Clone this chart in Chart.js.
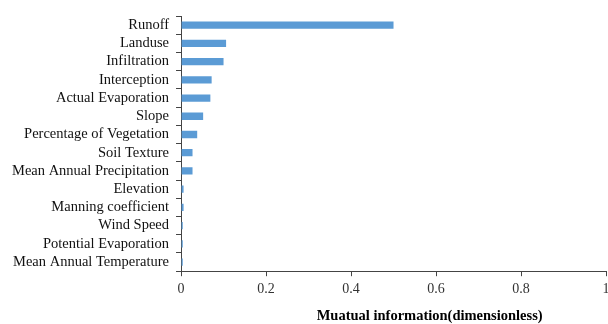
<!DOCTYPE html>
<html>
<head>
<meta charset="utf-8">
<script src="https://cdn.jsdelivr.net/npm/chart.js@4.4.1/dist/chart.umd.min.js"></script>
<style>
  html, body { margin: 0; padding: 0; background: #fff; }
  #wrap { width: 608px; height: 324px; }
</style>
</head>
<body>
<div id="wrap"><canvas id="barChart"></canvas></div>
<script>
// factors (top to bottom) and their mutual information
var factores = ["Runoff", "Landuse", "Infiltration", "Interception", "Actual Evaporation",
  "Slope", "Percentage of Vegetation", "Soil Texture", "Mean Annual Precipitation",
  "Elevation", "Manning coefficient", "Wind Speed", "Potential Evaporation",
  "Mean Annual Temperature"];
var infoMutua = [0.5, 0.106, 0.1, 0.072, 0.069, 0.052, 0.038, 0.027, 0.027,
  0.006, 0.006, 0.004, 0.004, 0.004];
var ticksX = [0, 0.2, 0.4, 0.6, 0.8, 1];
var tituloX = "Muatual information(dimensionless)";

const FUENTE = "'Liberation Serif', 'Times New Roman', serif";

// axis title sits right of the plot centre in the original
const tituloPlugin = {
  id: 'tituloX',
  afterDraw(chart) {
    const ctx = chart.ctx;
    const area = chart.chartArea;
    ctx.save();
    ctx.font = "bold 14.5px " + FUENTE;
    ctx.fillStyle = "#000";
    ctx.textAlign = "center";
    ctx.textBaseline = "middle";
    ctx.fillText(tituloX, area.left + (area.right - area.left) * 0.585, 316);
    ctx.restore();
  }
};

let barChart = new Chart(document.getElementById("barChart"), {
  type: 'bar',
  data: {
    labels: factores,
    datasets: [{
      data: infoMutua,
      backgroundColor: '#5b9bd5',
      borderWidth: 0,
      barPercentage: 0.4,
      categoryPercentage: 1
    }]
  },
  options: {
    indexAxis: 'y',
    responsive: true,
    maintainAspectRatio: false,
    animation: false,
    layout: { padding: { top: 16, right: 0, bottom: 21, left: 5 } },
    plugins: { legend: { display: false }, tooltip: { enabled: false } },
    scales: {
      x: {
        min: 0, max: 1,
        afterBuildTicks: (axis) => { axis.ticks = ticksX.map(v => ({ value: v })); },
        afterFit: (axis) => { axis.paddingRight = 2; },  // let the "1" run off the edge like the original
        grid: { display: true, drawOnChartArea: false, drawTicks: true, tickLength: 5, color: '#444', lineWidth: 1 },
        border: { display: true, color: '#444', width: 1 },
        ticks: {
          color: '#333', font: { family: FUENTE, size: 14 }, padding: 5, maxRotation: 0,
          callback: (v) => String(v)
        }
      },
      y: {
        grid: { display: true, offset: true, drawOnChartArea: false, drawTicks: true, tickLength: 5, color: '#444', lineWidth: 1 },
        border: { display: true, color: '#444', width: 1 },
        ticks: { color: '#111', font: { family: FUENTE, size: 14.5 }, padding: 7, autoSkip: false }
      }
    }
  },
  plugins: [tituloPlugin]
});
</script>
</body>
</html>
